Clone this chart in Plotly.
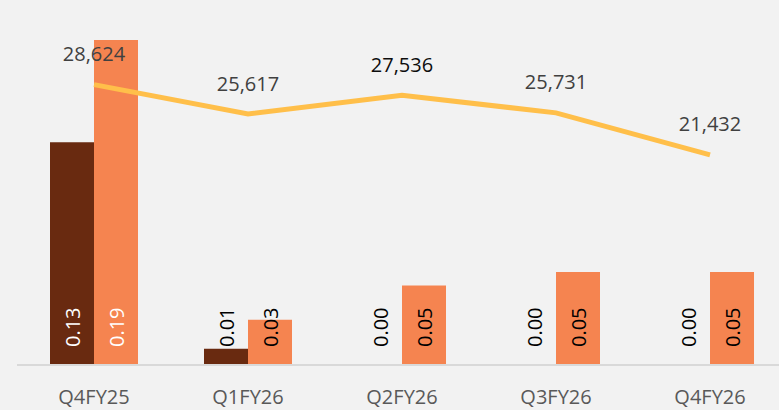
import plotly.graph_objects as go

categories = ["Q4FY25", "Q1FY26", "Q2FY26", "Q3FY26", "Q4FY26"]
series_a = [0.13, 0.009, 0.0, 0.0, 0.0]
series_b = [0.19, 0.026, 0.046, 0.054, 0.054]
line_values = [28624, 25617, 27536, 25731, 21432]
label_colors_a = ["#ffffff", "#000000", "#000000", "#000000", "#000000"]
label_colors_b = ["#ffffff", "#000000", "#000000", "#000000", "#000000"]
line_label_colors = ["#404040", "#404040", "#0d0d0d", "#404040", "#404040"]

FONT = "Open Sans"
BROWN = "#692a10"
ORANGE = "#f58450"
YELLOW = "#ffbf4a"

fig = go.Figure()
fig.add_trace(go.Bar(x=categories, y=series_a, marker=dict(color=BROWN, line=dict(width=0)),
                     hoverinfo="skip", showlegend=False))
fig.add_trace(go.Bar(x=categories, y=series_b, marker=dict(color=ORANGE, line=dict(width=0)),
                     hoverinfo="skip", showlegend=False))
fig.add_trace(go.Scatter(
    x=categories, y=line_values, yaxis="y2", mode="lines+markers+text",
    line=dict(color=YELLOW, width=5),
    marker=dict(size=28, color="rgba(0,0,0,0)"),
    text=[f"{v:,}" for v in line_values], textposition="top center",
    textfont=dict(family=FONT, size=20, color=line_label_colors),
    cliponaxis=False, showlegend=False, hoverinfo="skip"))

annotations = []
for cat, va, vb, ca, cb in zip(categories, series_a, series_b, label_colors_a, label_colors_b):
    for v, c, shift in ((va, ca, -22), (vb, cb, 22)):
        annotations.append(dict(
            x=cat, y=0, xref="x", yref="y", text=f"{v:.2f}", showarrow=False,
            textangle=-90, xanchor="center", yanchor="bottom", xshift=shift, yshift=15,
            font=dict(family=FONT, size=20, color=c)))

fig.update_layout(
    width=779, height=410,
    margin=dict(l=17, r=0, t=23, b=43),
    paper_bgcolor="#f2f2f2", plot_bgcolor="#f2f2f2",
    barmode="group", bargap=0.4286, bargroupgap=0,
    font=dict(family=FONT),
    xaxis=dict(type="category", range=[-0.5, 4.448], showgrid=False, zeroline=False,
               showline=True, linecolor="#d9d9d9", linewidth=1.5,
               ticks="", ticklabelstandoff=14,
               tickfont=dict(family=FONT, size=20, color="#595959")),
    yaxis=dict(range=[0, 0.2], visible=False, showgrid=False, zeroline=False),
    yaxis2=dict(range=[0, 34941], overlaying="y", side="right", visible=False,
                showgrid=False, zeroline=False),
    annotations=annotations,
)

fig.write_html("out.html", config={"displayModeBar": False},
               post_script="document.body.style.margin='0';document.body.style.background='#f2f2f2';")
